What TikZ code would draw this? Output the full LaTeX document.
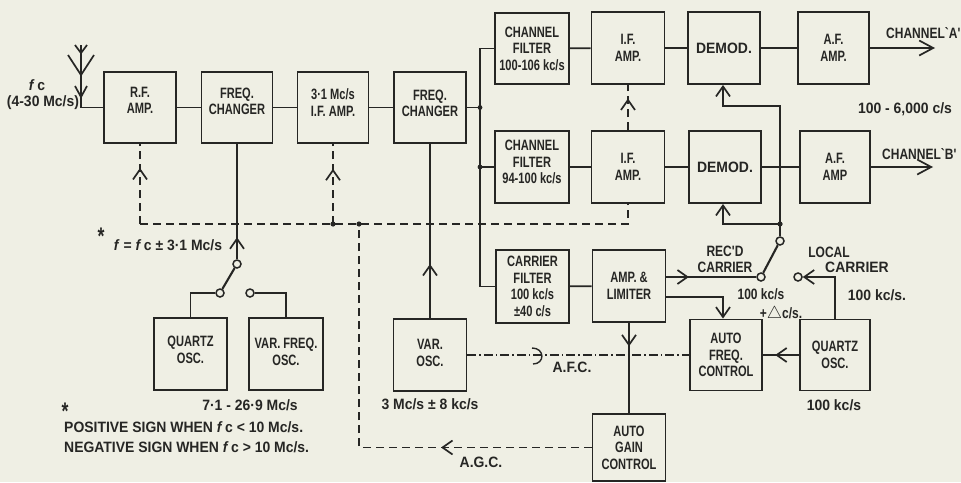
\documentclass[tikz,border=0pt]{standalone}
\usepackage{fontspec}
\setmainfont[FakeStretch=0.74]{Liberation Sans}
\newfontfamily\widefont[FakeStretch=0.93]{Liberation Sans}
\newfontfamily\midfont[FakeStretch=0.8]{Liberation Sans}
\usetikzlibrary{arrows.meta,decorations.markings}
\definecolor{paper}{HTML}{EFEFE4}
\definecolor{ink}{HTML}{262624}
\tikzset{
 vtip/.tip={Straight Barb[length=10pt,width=14pt]},
 bigtip/.tip={Straight Barb[length=14pt,width=15pt]},
 wire/.style={draw=ink,line width=1.7pt},
 unit/.style={draw=ink,line width=1.9pt,inner sep=0pt,align=center,text=ink,
  font=\bfseries\fontsize{15}{16.5}\selectfont},
 lift/.style={text depth=#1},
 lab/.style={inner sep=0pt,align=center,text=ink,font=\widefont\bfseries\fontsize{15}{16}\selectfont},
 midlab/.style={lab,font=\midfont\bfseries\fontsize{15}{16}\selectfont},
 starlab/.style={lab,font=\bfseries\fontsize{24}{24}\selectfont},
 contact/.style={circle,draw=ink,line width=1.5pt,fill=paper,inner sep=0pt,minimum size=8pt},
 gang/.style={wire,dash pattern=on 8pt off 5pt},
 afcline/.style={wire,line width=1.4pt,dash pattern=on 9pt off 3pt on 1.5pt off 3pt},
 flow/.style={postaction={decorate},
  decoration={markings,mark=at position #1 with {\arrow[ink,solid,line width=1.7pt]{vtip}}}},
}
\begin{document}
\begin{tikzpicture}[x=1pt,y=-1pt]
 \fill[paper] (0,0) rectangle (961,482);
 \useasboundingbox (0,0) rectangle (961,482);

 \node[unit,minimum width=72pt,minimum height=71pt,lift=14pt] (rf) at (140,107.5) {R.F.\\AMP.};
 \node[unit,minimum width=71pt,minimum height=71pt,lift=12pt] (fcone) at (237,107.5) {FREQ.\\CHANGER};
 \node[unit,minimum width=71pt,minimum height=71pt,lift=10pt] (ifmain) at (333,107.5) {3·1 Mc/s\\I.F. AMP.};
 \node[unit,minimum width=72pt,minimum height=71pt,lift=8pt] (fctwo) at (430,107.5) {FREQ.\\CHANGER};

 \node[unit,minimum width=74pt,minimum height=71pt] (cfone) at (532,48.5) {CHANNEL\\FILTER\\100-106 kc/s};
 \node[unit,minimum width=73pt,minimum height=72pt] (ifone) at (628,48) {I.F.\\AMP.};
 \node[unit,minimum width=72pt,minimum height=72pt] (demone) at (724,48) {\widefont DEMOD.};
 \node[unit,minimum width=71pt,minimum height=72pt] (afone) at (833.5,48) {A.F.\\AMP.};

 \node[unit,minimum width=74pt,minimum height=72pt,lift=10pt] (cftwo) at (532,167) {CHANNEL\\FILTER\\94-100 kc/s};
 \node[unit,minimum width=73pt,minimum height=72pt] (iftwo) at (628,167) {I.F.\\AMP.};
 \node[unit,minimum width=72pt,minimum height=72pt] (demtwo) at (725,167) {\widefont DEMOD.};
 \node[unit,minimum width=70pt,minimum height=72pt] (aftwo) at (835,167) {A.F.\\AMP};

 \node[unit,minimum width=73pt,minimum height=73pt] (carf) at (532.5,286.5) {CARRIER\\FILTER\\100 kc/s\\±40 c/s};
 \node[unit,minimum width=73pt,minimum height=72pt] (amp) at (629,286) {AMP. \&\\LIMITER};
 \node[unit,minimum width=72pt,minimum height=71pt] (afcbox) at (726,355) {AUTO\\FREQ.\\CONTROL};
 \node[unit,minimum width=70pt,minimum height=71pt] (qztwo) at (835,355) {QUARTZ\\OSC.};
 \node[unit,minimum width=73pt,minimum height=67pt] (agc) at (629,447.5) {AUTO\\GAIN\\CONTROL};
 \node[unit,minimum width=73pt,minimum height=72pt,lift=8pt] (qzone) at (190.5,354) {QUARTZ\\OSC.};
 \node[unit,minimum width=74pt,minimum height=72pt,lift=4pt] (vfo) at (286,354) {VAR. FREQ.\\OSC.};
 \node[unit,minimum width=73pt,minimum height=72pt,lift=4pt] (varosc) at (430,355) {VAR.\\OSC.};

 \node[contact] (swa) at (237,264) {};
 \node[contact] (swb) at (220,293) {};
 \node[contact] (swc) at (250,293) {};
 \node[contact] (swd) at (761,277) {};
 \node[contact] (swe) at (780,241) {};
 \node[contact] (swf) at (798,277) {};

 \coordinate (anttop) at (81,45);
 \coordinate (busmid) at (480,107.5);
 \coordinate (gangdot) at (359,224);
 \coordinate (gangleft) at (rf.south |- gangdot);
 \coordinate (tap) at (780,224);
 \coordinate (upper) at (780,106);
 \coordinate (chana) at (935,48);
 \coordinate (chanb) at (933,167);
 \coordinate (feedout) at (665,297);

 \draw[wire] (75,45)--(81,53)--(87,45);
 \draw[wire] (68,55)--(81,75)--(94,55);
 \draw[wire] (75,86)--(81,97)--(87,86);
 \draw[wire] (anttop) |- (rf.west);

 \draw[wire] (rf)--(fcone);
 \draw[wire] (fcone)--(ifmain);
 \draw[wire] (ifmain)--(fctwo);
 \draw[wire] (fctwo)--(busmid);
 \draw[wire] (cfone.west) -| (busmid) |- (carf.west);
 \draw[wire] (cftwo.west) -- (cftwo.west -| busmid);
 \fill[ink] (busmid) circle (2.4pt);
 \fill[ink] (cftwo.west -| busmid) circle (2.4pt);

 \draw[wire] (cfone)--(ifone);
 \draw[wire] (ifone)--(demone);
 \draw[wire] (demone)--(afone);
 \draw[wire,-bigtip] (afone)--(chana);
 \draw[wire] (cftwo)--(iftwo);
 \draw[wire] (iftwo)--(demtwo);
 \draw[wire] (demtwo)--(aftwo);
 \draw[wire,-bigtip] (aftwo)--(chanb);
 \draw[wire] (carf)--(amp);

 \draw[gang,flow=0.7] (gangleft)--(rf.south);
 \draw[gang] (gangleft)--(gangdot) -| (iftwo.south);
 \draw[gang,flow=0.69] (ifmain.south |- gangdot)--(ifmain.south);
 \draw[gang,flow=0.7] (iftwo)--(ifone);
 \draw[gang,flow=0.33] (agc.west) -| (gangdot);
 \fill[ink] (ifmain.south |- gangdot) circle (2.6pt);
 \fill[ink] (gangdot) circle (2.6pt);

 \draw[wire,line width=2.1pt] (swa)--(swb);
 \draw[wire,flow=0.19] (swa)--(fcone.south);
 \draw[wire] (swb) -| (qzone.north);
 \draw[wire] (swc) -| (vfo.north);
 \draw[wire,flow=0.31] (varosc)--(fctwo);

 \draw[afcline] (varosc)--(afcbox);
 \coordinate (afcmark) at (537,355);
 \draw[wire,line width=1.4pt] ([xshift=-5pt,yshift=7pt]afcmark)
  .. controls ([xshift=8pt,yshift=7pt]afcmark) and ([xshift=8pt,yshift=-9pt]afcmark)
  .. ([xshift=-4pt,yshift=-9pt]afcmark);

 \draw[wire,flow=0.26] (amp)--(agc);
 \draw[wire,flow=0.25] (amp.east |- swd)--(swd);
 \draw[wire,line width=2.1pt] (swd)--(swe);
 \draw[wire] (swe)--(tap);
 \fill[ink] (tap) circle (2.6pt);
 \draw[wire,-vtip] (tap) -| ([xshift=-2pt]demtwo.south);
 \draw[wire,-vtip] (tap)--(upper) -| ([xshift=-1pt]demone.south);
 \draw[wire,-vtip] (feedout) -| ([xshift=-3pt]afcbox.north);
 \draw[wire,-vtip] (qztwo.north) |- (swf);
 \draw[wire,flow=0.66] (qztwo)--(afcbox);

 \node[lab] (lblfc) at (37,85) {\textit{f}\,c};
 \node[lab] (lblrange) at (43,103) {(4-30 Mc/s)};
 \node[starlab] (lblstarone) at (101,236) {*};
 \node[lab] (lblf) at (168,245) {\textit{f} = \textit{f}\,c ± 3·1 Mc/s};
 \node[lab] (lblquartz) at (250,405) {7·1 - 26·9 Mc/s};
 \node[starlab] (lblstartwo) at (65,411) {*};
 \node[lab,anchor=west] (lblpos) at (64,427) {POSITIVE SIGN WHEN \textit{f}\,c < 10 Mc/s.};
 \node[lab,anchor=west] (lblneg) at (64,447) {NEGATIVE SIGN WHEN \textit{f}\,c > 10 Mc/s.};
 \node[lab] (lblvar) at (430,404) {3 Mc/s ± 8 kc/s};
 \node[lab] (lblaf) at (905,109) {100 - 6,000 c/s};
 \node[midlab,anchor=west] (lblchana) at (886,33) {CHANNEL`A'};
 \node[midlab,anchor=west] (lblchanb) at (882,154) {CHANNEL`B'};
 \node[midlab] (lblrecd) at (725,259) {REC'D\\CARRIER};
 \node[midlab] (lblrecf) at (761,294) {100 kc/s};
 \node[midlab] (lbldelta) at (781,314) {+{\fontsize{17}{17}\selectfont$\triangle$}c/s.};
 \node[midlab] (lbllocal) at (829,252) {LOCAL};
 \node[lab] (lblcarrier) at (857,267) {CARRIER};
 \node[lab] (lbllocf) at (877,295) {100 kc/s.};
 \node[lab] (lblqzf) at (834,405) {100 kc/s};
 \node[lab] (lblafc) at (572,367) {A.F.C.};
 \node[lab] (lblagc) at (481,462) {A.G.C.};
\end{tikzpicture}
\end{document}
